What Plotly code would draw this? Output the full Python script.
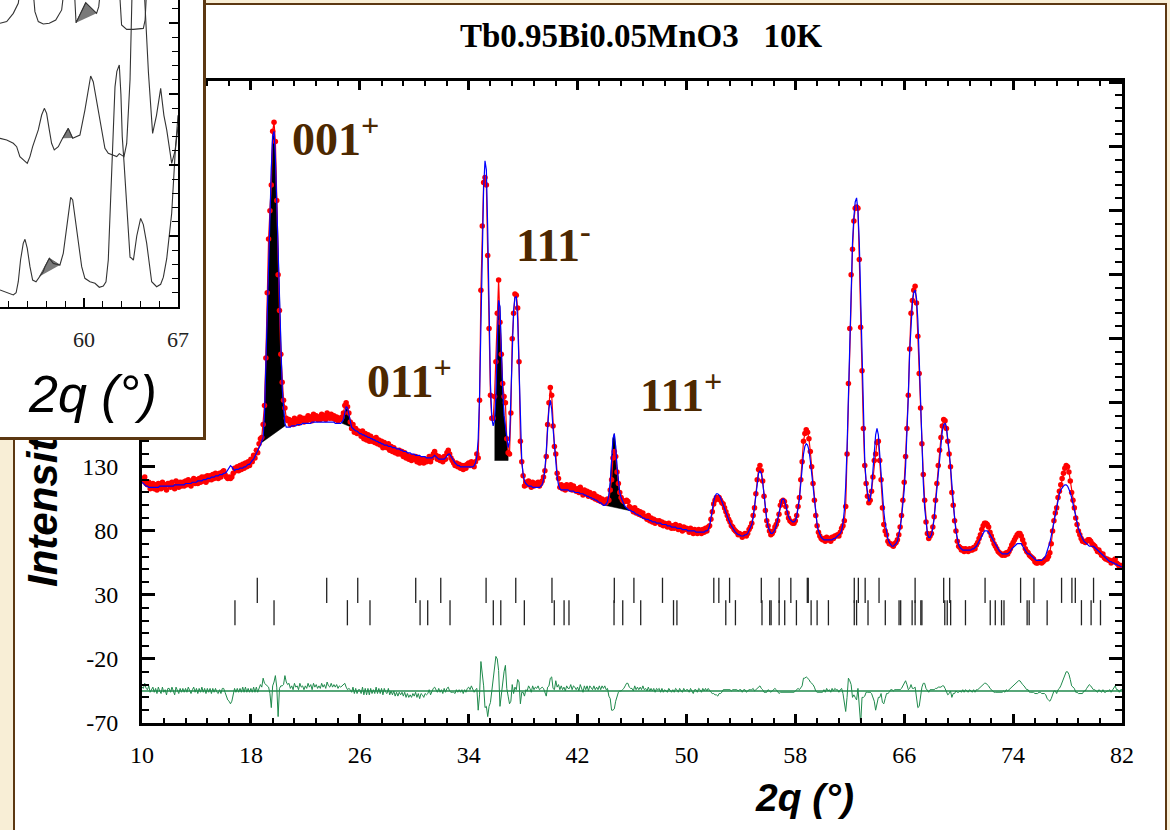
import numpy as np
import plotly.graph_objects as go

W, H = 1170, 830
def px(x):
    return x / W
def py(y):
    return 1 - y / H

# ---------------- main refinement data (2theta step 0.1 deg, starting at 10.0) ----------------
START, STEP = 10.0, 0.1

y_calc = [
    118,117,116,115,115,114,114,114,114,114,  # 10
    114,114,114,115,115,115,115,115,115,115,  # 11
    115,115,115,115,116,116,116,116,116,116,  # 12
    116,116,117,117,117,117,117,118,118,118,  # 13
    118,119,119,119,119,120,120,120,121,121,  # 14
    121,122,122,122,123,123,123,124,124,124,  # 15
    125,125,126,128,130,131,130,128,127,128,  # 16
    128,128,129,129,129,130,130,131,132,132,  # 17
    134,135,136,138,140,142,145,147,150,153,  # 18
    172,210,262,305,332,363,388,392,372,335,  # 19
    300,250,214,192,177,164,161,161,161,161,  # 20
    162,162,162,162,163,163,163,163,164,164,  # 21
    164,164,164,164,164,165,165,165,165,165,  # 22
    165,165,165,165,165,165,165,165,165,165,  # 23
    165,165,164,164,164,164,164,165,167,172,  # 24
    177,176,170,164,161,160,159,158,158,157,  # 25
    156,156,155,155,154,154,153,153,152,152,  # 26
    151,151,150,150,149,149,148,148,147,147,  # 27
    147,146,146,146,145,145,145,144,144,144,  # 28
    143,143,142,142,142,141,141,141,140,140,  # 29
    140,139,139,139,139,138,138,138,138,137,  # 30
    137,137,137,137,138,139,138,137,136,136,  # 31
    136,136,136,137,139,140,140,138,136,134,  # 32
    133,132,131,131,130,130,130,130,130,130,  # 33
    130,130,130,130,131,133,138,152,185,245,  # 34
    305,348,369,362,315,250,195,168,162,166,  # 35
    185,225,260,255,220,190,170,160,150,145,  # 36
    150,180,225,252,262,263,245,205,160,135,  # 37
    124,119,117,116,115,115,115,114,114,114,  # 38
    114,114,114,115,116,120,128,142,160,176,  # 39
    182,175,160,145,132,122,116,113,112,112,  # 40
    112,112,112,112,111,111,111,111,110,110,  # 41
    110,110,109,109,109,108,108,107,107,106,  # 42
    106,105,105,104,104,103,102,102,101,100,  # 43
    100,101,103,108,118,135,152,156,146,130,  # 44
    118,110,106,103,101,99,98,97,96,96,       # 45
    95,95,94,93,93,92,92,91,90,90,            # 46
    89,89,89,88,88,87,87,87,86,86,            # 47
    86,86,85,85,85,85,84,84,84,83,            # 48
    83,83,83,82,82,82,82,81,81,81,            # 49
    81,80,80,80,80,80,80,79,79,79,            # 50
    79,79,79,79,80,80,81,84,90,97,            # 51
    103,107,109,109,108,106,103,100,97,94,    # 52
    91,88,86,84,82,80,79,78,77,77,            # 53
    76,76,76,77,77,78,80,82,85,90,            # 54
    98,108,118,125,127,125,118,108,97,89,     # 55
    83,80,78,78,79,81,84,89,95,101,           # 56
    104,105,104,100,95,91,89,88,87,87,        # 57
    88,91,97,105,117,130,140,146,148,147,     # 58
    143,135,124,112,101,92,85,80,77,75,       # 59
    74,73,73,73,73,73,73,73,74,74,            # 60
    75,76,77,78,80,86,96,115,145,185,         # 61
    230,275,305,325,337,340,330,305,265,210,  # 62
    165,135,118,108,103,105,113,127,143,155,  # 63
    160,155,140,122,107,95,86,79,74,71,       # 64
    69,68,68,69,70,72,76,82,90,100,           # 65
    112,130,155,185,220,245,258,266,268,262,  # 66
    245,215,180,145,118,98,85,78,75,75,       # 67
    77,82,90,102,115,128,140,150,158,163,     # 68
    164,161,153,142,130,115,102,90,80,73,     # 69
    69,67,66,65,65,65,65,65,65,65,            # 70
    66,66,67,68,70,72,74,77,79,80,            # 71
    80,80,79,77,75,73,71,69,67,65,            # 72
    64,63,62,62,62,62,62,63,64,66,            # 73
    67,68,69,70,70,70,70,68,66,64,            # 74
    63,62,62,61,60,59,58,57,57,57,            # 75
    57,57,58,59,61,64,67,71,76,82,            # 76
    88,94,100,105,109,112,114,115,116,116,    # 77
    115,113,110,106,101,96,91,86,82,79,       # 78
    76,74,72,71,70,69,68,68,68,68,            # 79
    67,66,65,64,63,62,61,60,59,58,            # 80
    57,56,56,55,55,54,54,53,53,52,            # 81
    52,                                       # 82
]

y_obs = [
    121,119,122,117,116,118,113,115,117,113,  # 10
    116,112,117,115,113,118,114,116,112,117,  # 11
    117,114,118,115,113,119,116,114,118,115,  # 12
    118,115,119,116,120,117,115,119,121,117,  # 13
    120,117,121,118,122,119,122,118,123,120,  # 14
    123,120,124,121,125,122,121,125,122,126,  # 15
    127,124,122,121,122,121,122,125,129,127,  # 16
    130,127,131,128,132,129,133,130,134,131,  # 17
    136,134,139,137,143,141,148,152,153,163,  # 18
    178,215,266,308,330,350,392,399,384,338,  # 19
    280,252,218,196,182,176,168,166,167,163,  # 20
    166,163,168,165,167,164,169,166,168,165,  # 21
    168,166,170,167,169,166,171,168,170,167,  # 22
    169,167,171,168,170,167,172,169,168,171,  # 23
    168,170,167,169,166,168,167,169,172,178,  # 24
    180,177,172,165,160,163,157,160,156,158,  # 25
    157,154,158,152,156,151,155,150,154,150,  # 26
    152,149,153,148,151,147,150,145,149,146,  # 27
    145,148,143,146,142,145,141,143,140,143,  # 28
    140,142,138,141,137,139,136,138,135,138,  # 29
    136,138,134,137,133,136,135,133,136,134,  # 30
    135,138,134,137,140,142,139,136,138,135,  # 31
    137,134,138,136,141,143,140,137,135,133,  # 32
    131,133,130,132,129,131,128,131,129,132,  # 33
    133,131,134,132,130,134,140,137,182,268,  # 34
    318,352,356,350,295,238,186,168,168,185,  # 35
    212,250,276,243,218,195,185,180,152,141,  # 36
    140,172,230,250,265,264,254,212,150,134,  # 37
    123,115,118,116,119,117,114,118,115,117,  # 38
    116,118,115,117,119,122,127,138,163,180,  # 39
    192,186,162,146,140,125,121,114,116,113,  # 40
    115,112,116,114,113,116,112,115,113,111,  # 41
    113,110,114,111,108,112,109,111,107,110,  # 42
    108,106,109,105,107,104,106,103,105,102,  # 43
    104,102,105,104,112,120,137,142,138,126,  # 44
    117,110,106,104,103,103,104,103,99,98,    # 45
    97,95,98,94,96,93,95,92,94,91,            # 46
    91,89,92,88,90,87,89,86,88,87,            # 47
    88,85,87,84,86,85,83,86,84,82,            # 48
    84,82,85,83,81,84,82,80,83,81,            # 49
    82,81,79,82,80,78,81,80,78,81,            # 50
    80,78,81,79,82,80,83,84,89,95,            # 51
    101,104,106,105,106,104,102,101,98,95,    # 52
    92,89,87,84,83,81,80,79,77,78,            # 53
    77,75,77,78,76,78,81,83,86,92,            # 54
    98,109,120,128,131,127,119,107,96,88,     # 55
    84,80,77,78,80,83,85,88,93,100,           # 56
    103,104,103,99,94,90,88,87,86,86,         # 57
    88,92,99,106,120,134,150,156,159,157,     # 58
    152,142,130,117,104,92,84,79,76,74,       # 59
    73,74,72,75,73,74,72,75,74,76,            # 60
    76,77,76,79,82,84,88,99,140,195,          # 61
    238,280,300,322,332,333,332,292,239,205,  # 62
    160,131,117,107,102,104,111,122,135,140,  # 63
    149,150,135,120,98,85,80,77,72,70,        # 64
    70,69,68,70,71,73,77,83,92,104,           # 65
    118,138,160,186,222,250,260,268,271,258,  # 66
    232,203,176,148,124,104,87,78,74,76,      # 67
    78,83,91,104,117,131,143,153,162,167,     # 68
    166,160,150,140,130,110,100,88,80,72,     # 69
    68,67,65,66,64,66,65,64,66,65,            # 70
    65,67,66,69,71,74,77,81,84,86,            # 71
    86,85,83,79,76,73,70,68,66,64,            # 72
    63,62,61,62,61,63,62,64,66,69,            # 73
    71,73,75,77,78,78,76,73,70,66,            # 74
    64,63,61,60,59,58,56,55,55,56,            # 75
    56,55,56,57,58,58,60,63,70,80,            # 76
    88,94,98,106,111,116,121,125,129,131,     # 77
    130,126,119,110,104,98,90,85,80,77,       # 78
    74,72,72,71,72,73,73,72,70,69,            # 79
    68,66,64,65,63,61,62,59,58,58,            # 80
    57,57,55,56,57,58,55,54,52,53,            # 81
    53,                                       # 82
]

diff_offset = -45

# y tick labels as printed (plain hyphen minus)
y_tickvals = [-70, -20, 30, 80, 130, 180, 230, 280, 330, 380, 430]
y_ticktext = ["-70", "-20", "30", "80", "130", "180", "230", "280", "330", "380", "430"]

# Bragg reflection positions (two phases)
bragg_row1 = [18.47, 23.57, 25.85, 30.11, 31.95, 35.28, 37.46, 40.12, 44.70, 46.14, 48.24,
              52.01, 52.38, 53.17, 55.50, 56.81, 57.67, 58.88, 58.95, 62.33, 62.63, 63.13,
              64.15, 66.80, 68.90, 69.34, 71.94, 74.55, 75.53, 77.56, 78.32, 78.57, 79.91]
bragg_row2 = [16.83, 19.70, 25.09, 26.75, 30.43, 30.99, 32.63, 35.81, 36.36, 38.09, 40.29,
              41.01, 41.37, 44.68, 45.32, 46.64, 49.05, 49.30, 52.89, 53.60, 55.55, 56.12,
              56.22, 56.81, 57.22, 58.08, 59.16, 59.60, 60.43, 62.33, 62.50, 63.34, 64.61,
              65.62, 65.74, 66.58, 66.80, 67.22, 67.30, 68.98, 69.16, 69.41, 70.50, 72.32,
              72.69, 73.15, 73.33, 75.03, 75.18, 76.50, 79.02, 79.73, 80.42]
bragg_level1 = 33.6
bragg_level2 = 16.1

# magnetic peak fills (range and straight baseline)
mag_lo = [18.8, 24.7, 35.9, 44.0]
mag_hi = [20.5, 25.4, 36.9, 46.2]
mag_base_lo = [149, 164, 135, 100]
mag_base_hi = [162, 161, 135, 95]

peak_labels = ["001<sup>+</sup>", "011<sup>+</sup>", "111<sup>-</sup>", "111<sup>+</sup>"]
peak_label_px = [(290, 136), (365, 378), (514, 242), (638, 392)]

# ---------------- inset (cut-off panel) data ----------------
inset_b_x = [53.75, 54.25, 54.74, 54.95, 55.11, 55.28, 55.48, 55.61, 55.78, 55.98, 56.18, 56.43,
             56.68, 56.97, 57.10, 57.42, 57.72, 58.21, 58.46, 58.66, 58.83, 59.01, 59.16, 59.33,
             59.58, 59.83, 60.07, 60.45, 60.82, 61.14, 61.44, 61.64, 61.81, 61.94, 62.06, 62.19,
             62.31, 62.45, 62.63, 62.75, 62.85, 62.98, 63.18, 63.43, 63.55, 63.68, 63.93, 64.22,
             64.42, 64.67, 65.04, 65.41, 65.71, 65.91, 66.16, 66.53, 66.78, 66.91, 67.0]
inset_b_y = [1.20, 1.01, 0.85, 1.00, 1.78, 3.31, 4.48, 4.77, 4.13, 2.84, 1.90, 1.78,
             2.14, 2.50, 2.84, 3.43, 3.07, 2.96, 3.78, 5.19, 6.60, 7.72, 7.54, 6.36,
             4.48, 2.84, 2.02, 1.78, 1.67, 1.39, 1.48, 1.78, 3.31, 6.36, 9.88, 13.5,
             15.5, 16.6, 17.04, 15.0, 12.0, 10.2, 7.0, 3.5, 3.43, 3.3, 5.0, 6.24,
             5.8, 4.48, 1.78, 1.43, 1.6, 2.1, 3.4, 6.6, 10.7, 12.7, 13.5]
inset_m_x = [53.75, 54.25, 54.74, 54.99, 55.23, 55.60, 55.78, 55.98, 56.18, 56.60, 56.85, 57.05,
             57.22, 57.42, 57.59, 57.79, 58.09, 58.34, 58.41, 58.83, 59.16, 59.70, 60.07, 60.32,
             60.50, 60.69, 60.94, 61.32, 61.56, 61.81, 62.19, 62.44, 62.63, 62.98, 63.18, 63.43,
             63.60, 64.45, 64.80, 65.11, 65.40, 65.71, 65.95, 66.16, 66.53, 66.78, 67.0]
inset_m_y = [11.88, 11.76, 11.53, 11.29, 10.59, 10.23, 10.12, 10.59, 11.29, 12.47, 13.52, 13.99,
             13.64, 12.47, 11.53, 11.06, 11.29, 11.76, 11.88, 12.58, 11.88, 12.11, 13.87, 15.40,
             16.27, 15.87, 14.58, 12.70, 11.18, 10.82, 10.71, 10.59, 10.80, 10.59, 11.50, 16.00,
             23.0, 23.0, 16.5, 12.23, 13.5, 15.40, 13.5, 12.47, 10.12, 11.0, 12.7]
inset_t_x = [53.75, 54.25, 54.74, 55.11, 55.35, 56.15, 56.35, 56.60, 56.97, 57.42, 57.90, 58.34,
             58.60, 59.25, 59.41, 60.13, 60.94, 61.10, 61.30, 62.60, 62.80, 63.18, 63.68, 64.42,
             64.55, 64.70]
inset_t_y = [19.98, 20.10, 20.68, 21.39, 23.0, 23.0, 20.8, 20.10, 19.93, 19.98, 20.21, 20.92,
             23.0, 23.0, 20.02, 21.43, 20.68, 21.15, 23.0, 23.0, 19.86, 19.55, 19.55, 19.62,
             20.21, 23.0]
inset_gray_x = [[56.68, 57.42, 58.21], [58.41, 58.83, 59.16], [59.41, 60.13, 60.94]]
inset_gray_y = [[2.14, 3.43, 2.96], [11.88, 12.58, 11.90], [20.02, 21.43, 20.68]]

# ---------------- styling ----------------
BEIGE = "#f8eed6"
BROWN = "#5c3812"
LABEL_BROWN = "#4d2800"
SERIF = "Liberation Serif, Times New Roman, serif"
SANS = "Liberation Sans, Arial, sans-serif"

calc = np.array(y_calc, dtype=float)
obs = np.array(y_obs, dtype=float)
n = min(len(calc), len(obs))
calc, obs = calc[:n], obs[:n]
two_theta = np.round(START + STEP * np.arange(n), 2)
diff = obs - calc + diff_offset

fig = go.Figure()

for lo, hi, b0, b1 in zip(mag_lo, mag_hi, mag_base_lo, mag_base_hi):
    m = (two_theta >= lo - 1e-6) & (two_theta <= hi + 1e-6)
    xs = list(two_theta[m]) + [hi, lo]
    ys = list(calc[m]) + [b1, b0]
    fig.add_trace(go.Scatter(x=xs, y=ys, mode="lines", fill="toself", fillcolor="black",
                             line=dict(color="black", width=0.5), hoverinfo="skip"))

fig.add_trace(go.Scatter(x=two_theta, y=obs, mode="lines+markers",
                         line=dict(color="red", width=1.2),
                         marker=dict(color="red", size=5.5, symbol="circle"), name="obs"))
fig.add_trace(go.Scatter(x=two_theta, y=calc, mode="lines",
                         line=dict(color="#0000ff", width=1.2), name="calc"))
fig.add_trace(go.Scatter(x=two_theta, y=diff, mode="lines",
                         line=dict(color="#1f8a4c", width=1), name="diff"))
fig.add_trace(go.Scatter(x=[10, 82], y=[diff_offset, diff_offset], mode="lines",
                         line=dict(color="#1f8a4c", width=1.5), hoverinfo="skip"))
for pos, lvl in ((bragg_row1, bragg_level1), (bragg_row2, bragg_level2)):
    fig.add_trace(go.Scatter(x=pos, y=[lvl] * len(pos), mode="markers",
                             marker=dict(symbol="line-ns", size=18, color="black",
                                         line=dict(width=1.3, color="#222222")),
                             hoverinfo="skip"))

# dummy trace carrying the y-axis title axis
fig.add_trace(go.Scatter(x=[10], y=[0], yaxis="y4", mode="markers",
                         marker=dict(opacity=0), hoverinfo="skip"))
# cover panel (inset frame)
fig.add_trace(go.Scatter(x=[0.5], y=[0.5], xaxis="x2", yaxis="y2", mode="markers",
                         marker=dict(opacity=0), hoverinfo="skip"))
# inset curves
for gx, gy in zip(inset_gray_x, inset_gray_y):
    fig.add_trace(go.Scatter(x=gx, y=gy, xaxis="x3", yaxis="y3", mode="lines", fill="toself",
                             fillcolor="#7a7a7a", line=dict(color="#555555", width=0.8),
                             hoverinfo="skip"))
for cx, cy in ((inset_b_x, inset_b_y), (inset_m_x, inset_m_y), (inset_t_x, inset_t_y)):
    fig.add_trace(go.Scatter(x=cx, y=cy, xaxis="x3", yaxis="y3", mode="lines",
                             line=dict(color="#333333", width=1.1), hoverinfo="skip"))

tickfont = dict(family=SERIF, size=24, color="black")
fig.update_layout(
    template="none",
    width=W, height=H, margin=dict(l=0, r=0, t=0, b=0, pad=0),
    paper_bgcolor=BEIGE, plot_bgcolor="white", showlegend=False,
    xaxis=dict(domain=[px(142), px(1122)], anchor="y", range=[10, 82],
               tick0=10, dtick=8, ticks="inside", ticklen=9, tickwidth=2.5, tickcolor="black",
               minor=dict(dtick=1.6, tick0=10, ticks="inside", ticklen=5, tickwidth=1.5,
                          tickcolor="black"),
               showline=True, linecolor="black", linewidth=3, mirror="ticks",
               showgrid=False, zeroline=False, tickfont=tickfont, ticklabelstandoff=8,
               automargin=False),
    yaxis=dict(domain=[py(723), py(81)], anchor="x", range=[-70, 431.3],
               tickvals=y_tickvals, ticktext=y_ticktext,
               ticks="inside", ticklen=13, tickwidth=2.5, tickcolor="black",
               minor=dict(dtick=10, tick0=-70, ticks="inside", ticklen=7, tickwidth=1.5,
                          tickcolor="black"),
               showline=True, linecolor="black", linewidth=3, mirror="ticks",
               showgrid=False, zeroline=False, tickfont=tickfont, ticklabelstandoff=16,
               automargin=False),
    yaxis4=dict(overlaying="y", anchor="free", position=px(65), side="left",
                range=[-70, 431.3], tickvals=[188], ticktext=["Intensity (arb. units)"],
                tickangle=-90, ticks="", showline=False, showgrid=False, zeroline=False,
                tickfont=dict(family=SANS, size=42, color="black", weight="bold", style="italic"),
                automargin=False),
    xaxis2=dict(domain=[0, px(203)], anchor="y2", range=[0, 1], showline=True,
                linecolor=BROWN, linewidth=2.5, showticklabels=False, ticks="",
                showgrid=False, zeroline=False, automargin=False),
    yaxis2=dict(domain=[py(437), 1], anchor="x2", side="right", range=[0, 1], showline=True,
                linecolor=BROWN, linewidth=2.5, showticklabels=False, ticks="",
                showgrid=False, zeroline=False, automargin=False),
    xaxis3=dict(domain=[0, px(178)], anchor="y3", range=[53.75, 67],
                tick0=53, dtick=7, ticks="inside", ticklen=9, tickwidth=1.5, tickcolor="black",
                minor=dict(dtick=1.4, tick0=53, ticks="inside", ticklen=6, tickwidth=1,
                           tickcolor="black"),
                showline=True, linecolor="black", linewidth=1.5, showgrid=False, zeroline=False,
                tickfont=dict(family=SERIF, size=22, color="#222222"), ticklabelstandoff=12,
                automargin=False),
    yaxis3=dict(domain=[py(307), 1], anchor="x3", side="right", range=[0, 21.62],
                tick0=0, dtick=5, ticks="inside", ticklen=9, tickwidth=1.5, tickcolor="black",
                minor=dict(dtick=1, tick0=0, ticks="inside", ticklen=6, tickwidth=1,
                           tickcolor="black"),
                showline=True, linecolor="black", linewidth=1.5, showticklabels=False,
                showgrid=False, zeroline=False, automargin=False),
)

# white slide panel behind the chart
fig.add_shape(type="rect", xref="paper", yref="paper", x0=px(14), x1=px(1166), y0=-0.02,
              y1=py(4), fillcolor="white", line=dict(color=BROWN, width=2), layer="below")

annotations = [
    dict(text="Tb0.95Bi0.05MnO3\u00a0\u00a0\u00a010K", x=px(641), y=py(36),
         font=dict(family=SERIF, size=33, color="black", weight="bold")),
    dict(text="2q (°)", x=px(804), y=py(797),
         font=dict(family=SANS, size=39, color="black", weight="bold", style="italic")),
    dict(text="2q (°)", x=px(92), y=py(394),
         font=dict(family=SANS, size=52, color="black", style="italic")),
]
for t, (lx, ly) in zip(peak_labels, peak_label_px):
    annotations.append(dict(text=t, x=px(lx), y=py(ly), xanchor="left",
                            font=dict(family=SERIF, size=46, color=LABEL_BROWN, weight="bold")))
for a in annotations:
    a.setdefault("xanchor", "center")
    fig.add_annotation(xref="paper", yref="paper", yanchor="middle", showarrow=False, **a)

fig.write_html("out.html", config={"displayModeBar": False})
